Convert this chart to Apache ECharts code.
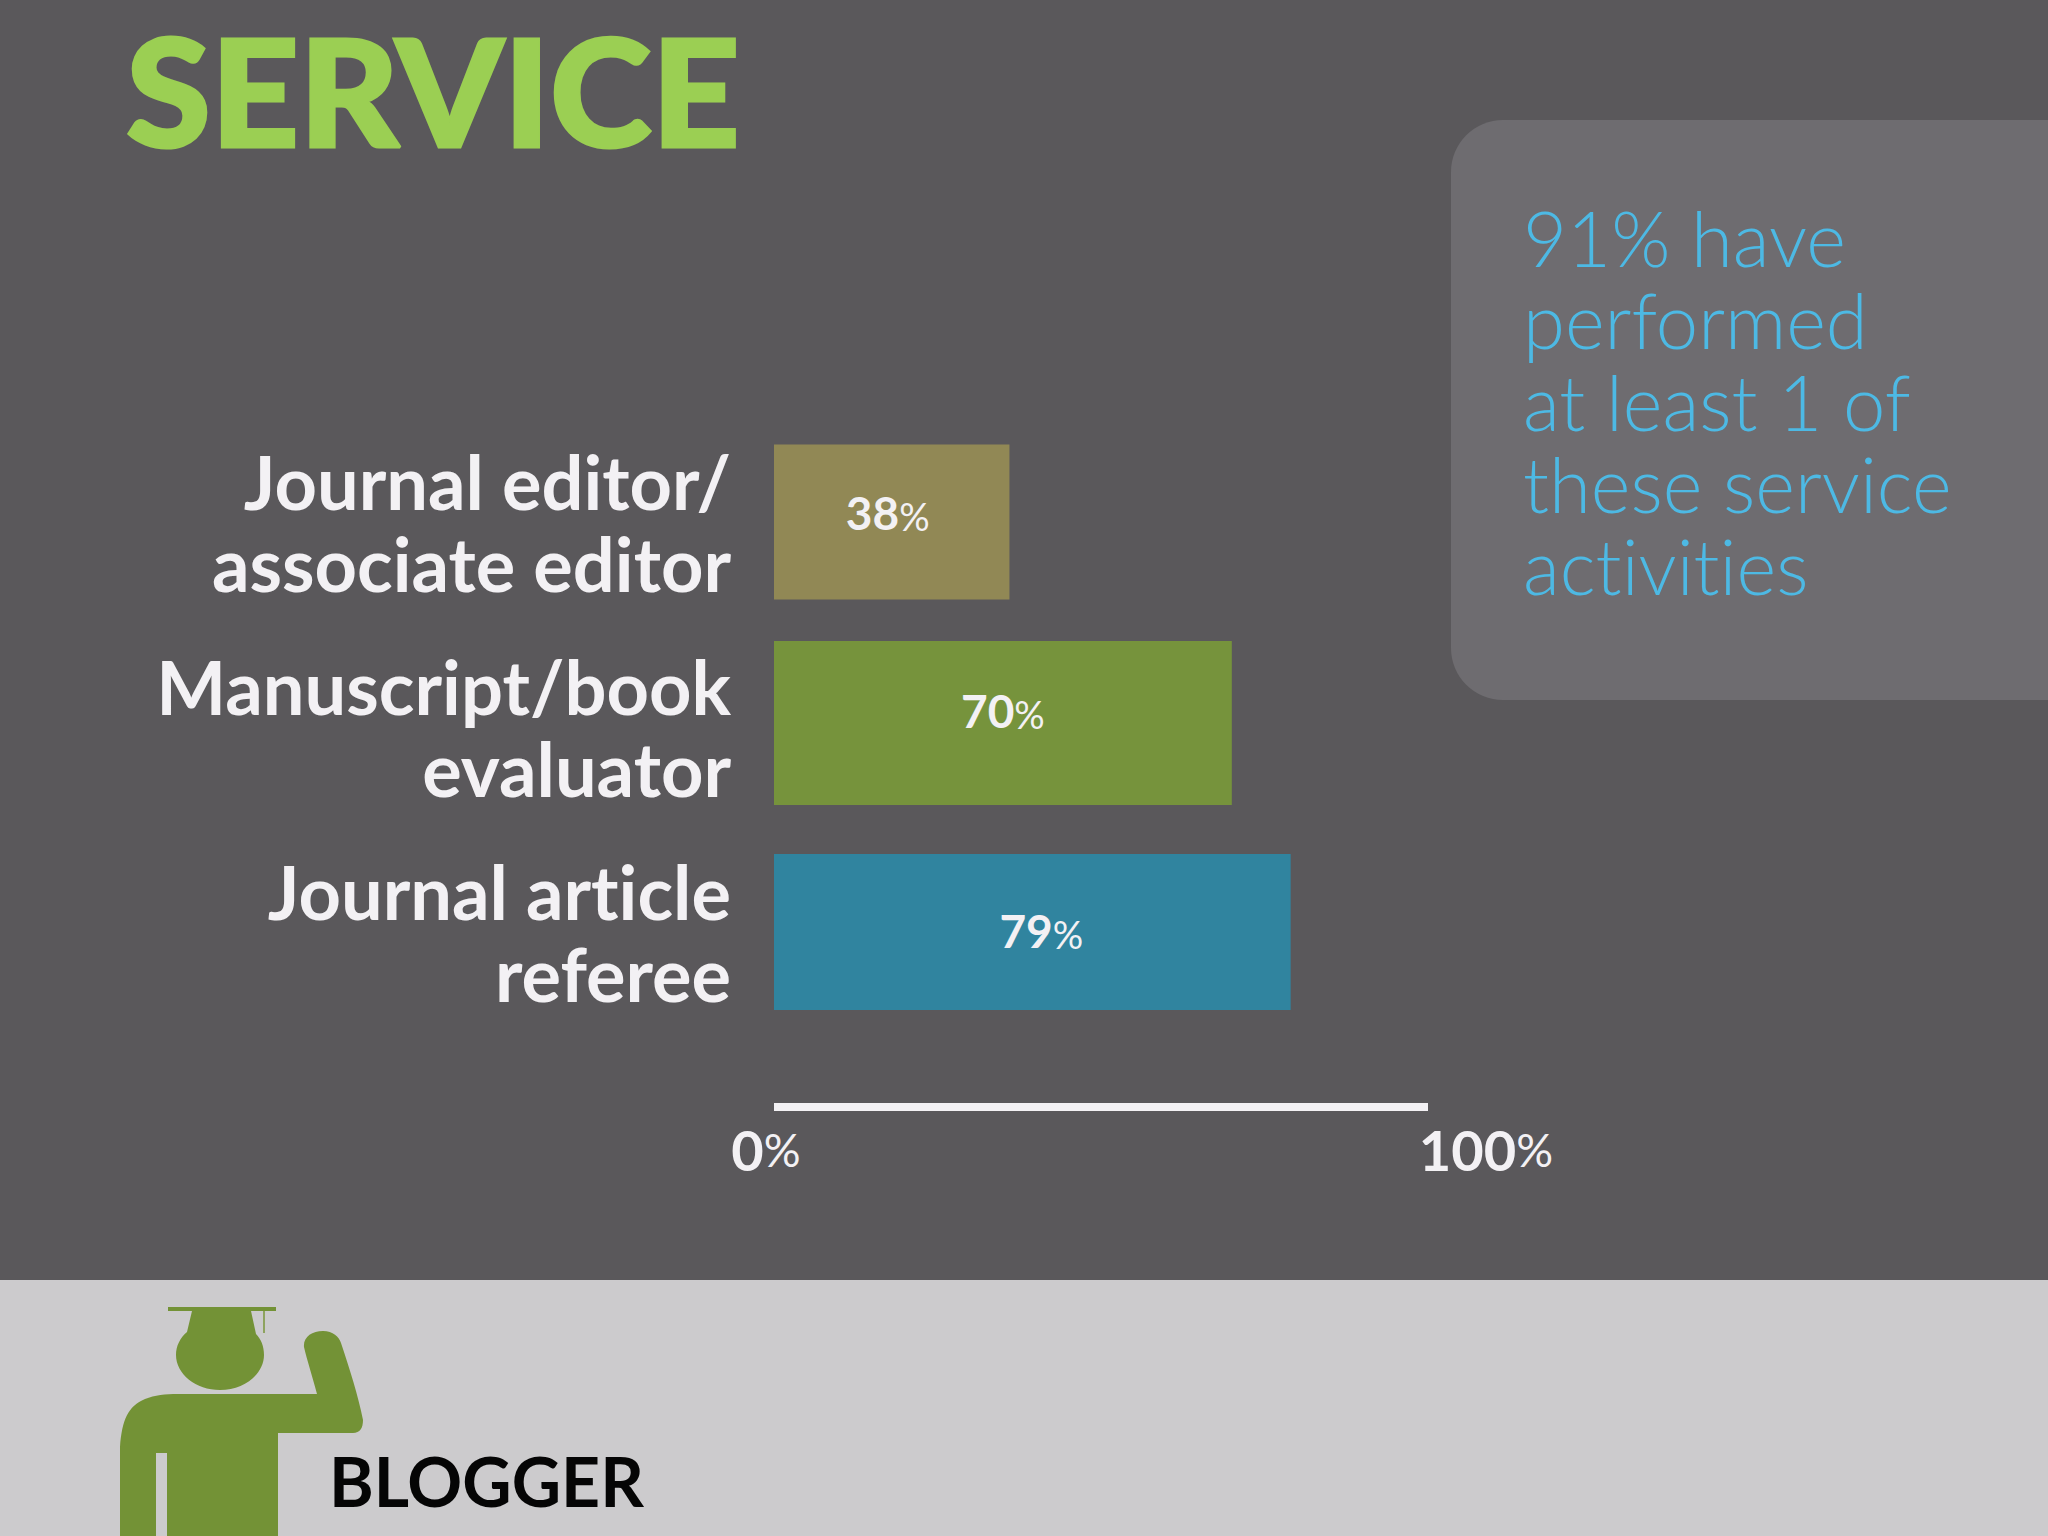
<!DOCTYPE html>
<html><head><meta charset="utf-8">
<style>html,body{margin:0;padding:0;background:#5a585b}#c{width:2048px;height:1536px;font-variant-ligatures:none}#c text{font-variant-ligatures:none}</style>
<script src="https://cdn.jsdelivr.net/npm/echarts@6/dist/echarts.min.js"></script>
</head><body><div id="c"></div>
<script>
const categories = ['Journal editor/\nassociate editor', 'Manuscript/book\nevaluator', 'Journal article\nreferee'];
// Drawn bar lengths as measured against the 0-100% axis; the printed labels are separate.
const drawnValues = [36, 70, 79];
const printedNumbers = ['38', '70', '79'];
const barColors = ['#918855', '#76933c', '#30849f'];
const barHeights = [155, 164, 156];
const barNudges = [0, -4, 0];
const labelNudges = [[-4, -10], [0, -13], [9, -2]];
const axisTicks = [0, 100];
const TEXT = '#f3f1f4';
const FONT = 'Lato';
const GREEN = '#739236';
const bodyPath = 'M120 1536 L120 1447 C122 1420 128 1406 145 1399 C155 1395 165 1394 178 1394 L317 1394 C312 1375 307 1360 304 1347 C303 1337 312 1331 323 1331 C333 1331 339 1337 341 1343 C350 1370 358 1395 363 1420 C363 1428 360 1433 353 1433 L278 1433 L278 1536 L167 1536 L167 1453 L156 1453 L156 1536 Z';
const headPath = 'M168 1307 L276 1307 L276 1311 L251 1311 L256 1334 C261 1339 264 1346 264 1355 C264 1374 244 1390 220 1390 C196 1390 176 1374 176 1355 C176 1346 180 1338 187 1332 L192 1311 L168 1311 Z';

const chart = echarts.init(document.getElementById('c'), null, {renderer: 'svg'});
const percentRich = {
  n: {fontFamily: FONT, fontWeight: 700, fontSize: 46, fill: TEXT, color: TEXT},
  p: {fontFamily: FONT, fontWeight: 400, fontSize: 38, fill: TEXT, color: TEXT, verticalAlign: 'bottom'}
};
chart.setOption({
  animation: false,
  backgroundColor: '#5a585b',
  grid: {left: 774, width: 654, top: 419.5, height: 615, containLabel: false},
  xAxis: {
    type: 'value', min: 0, max: 100, interval: 100, position: 'bottom', offset: 72.5,
    splitLine: {show: false}, axisTick: {show: false},
    axisLine: {show: true, lineStyle: {color: TEXT, width: 8, cap: 'butt'}},
    axisLabel: {
      margin: 14, showMinLabel: true, showMaxLabel: true, alignMinLabel: 'center', alignMaxLabel: 'center',
      formatter: v => v === axisTicks[0] ? '{a|' + v + '}{q|%}' : '{b|' + v + '}{p|%}',
      rich: {
        a: {fontFamily: FONT, fontWeight: 700, fontSize: 56, color: TEXT},
        b: {fontFamily: FONT, fontWeight: 700, fontSize: 56, color: TEXT, padding: [0, 0, 0, 116]},
        p: {fontFamily: FONT, fontWeight: 400, fontSize: 46, color: TEXT},
        q: {fontFamily: FONT, fontWeight: 400, fontSize: 46, color: TEXT, padding: [0, 16, 0, 0]}
      }
    }
  },
  yAxis: {
    type: 'category', inverse: true,
    data: categories.map((c, i) => ({value: c, textStyle: {padding: [i === 1 ? 8 : 0, 0, 0, 0]}})),
    axisLine: {show: false}, axisTick: {show: false}, splitLine: {show: false},
    axisLabel: {margin: 43, fontFamily: FONT, fontWeight: 700, fontSize: 74, lineHeight: 82, color: TEXT, align: 'right'}
  },
  series: [{
    type: 'custom', coordinateSystem: 'cartesian2d', encode: {x: 0, y: 1}, clip: false,
    data: drawnValues.map((v, i) => [v, i]),
    renderItem(params, api) {
      const i = api.value(1);
      const end = api.coord([api.value(0), i]);
      const start = api.coord([0, i]);
      const h = barHeights[i], cy = end[1] + barNudges[i];
      return {
        type: 'group',
        children: [
          {type: 'rect', shape: {x: start[0], y: cy - h / 2, width: end[0] - start[0], height: h}, style: {fill: barColors[i]}},
          {type: 'text', x: (start[0] + end[0]) / 2 + labelNudges[i][0], y: cy + labelNudges[i][1],
           style: {text: '{n|' + printedNumbers[i] + '}{p|%}', rich: percentRich, fill: TEXT, align: 'center', verticalAlign: 'middle'}}
        ]
      };
    }
  }, {
    type: 'custom', coordinateSystem: 'none', silent: true, data: [0],
    renderItem() {
      return {
        type: 'group',
        children: [
          {type: 'path', shape: {pathData: bodyPath, layout: 'cover', x: 120, y: 1331, width: 243, height: 205}, style: {fill: GREEN}},
          {type: 'path', shape: {pathData: headPath, layout: 'cover', x: 168, y: 1307, width: 108, height: 83}, style: {fill: GREEN}},
          {type: 'rect', shape: {x: 263, y: 1311, width: 2, height: 22}, style: {fill: '#8ea35f'}}
        ]
      };
    }
  }],
  graphic: [
    {type: 'rect', z: -10, shape: {x: 0, y: 1280, width: 2048, height: 256}, style: {fill: '#cccbcd'}},
    {type: 'rect', z: -10, shape: {x: 1451, y: 120, width: 660, height: 580, r: 52}, style: {fill: '#6e6c70'}},
    {type: 'text', x: 126, y: 90, scaleX: 1.04, style: {text: 'SERVICE', fontFamily: FONT, fontWeight: 900, fontSize: 148, fill: '#9bcf53', stroke: '#9bcf53', lineWidth: 3, verticalAlign: 'middle', align: 'left'}},
    {type: 'text', x: 1523, y: 401, style: {text: '91% have\nperformed\nat least 1 of\nthese service\nactivities', fontFamily: FONT, fontWeight: 300, fontSize: 76, lineHeight: 82, fill: '#4db9e4', verticalAlign: 'middle', align: 'left'}},
    {type: 'text', x: 329, y: 1480, style: {text: 'BLOGGER', fontFamily: FONT, fontWeight: 700, fontSize: 68, fill: '#050505', verticalAlign: 'middle', align: 'left'}}
  ]
});
</script></body></html>
